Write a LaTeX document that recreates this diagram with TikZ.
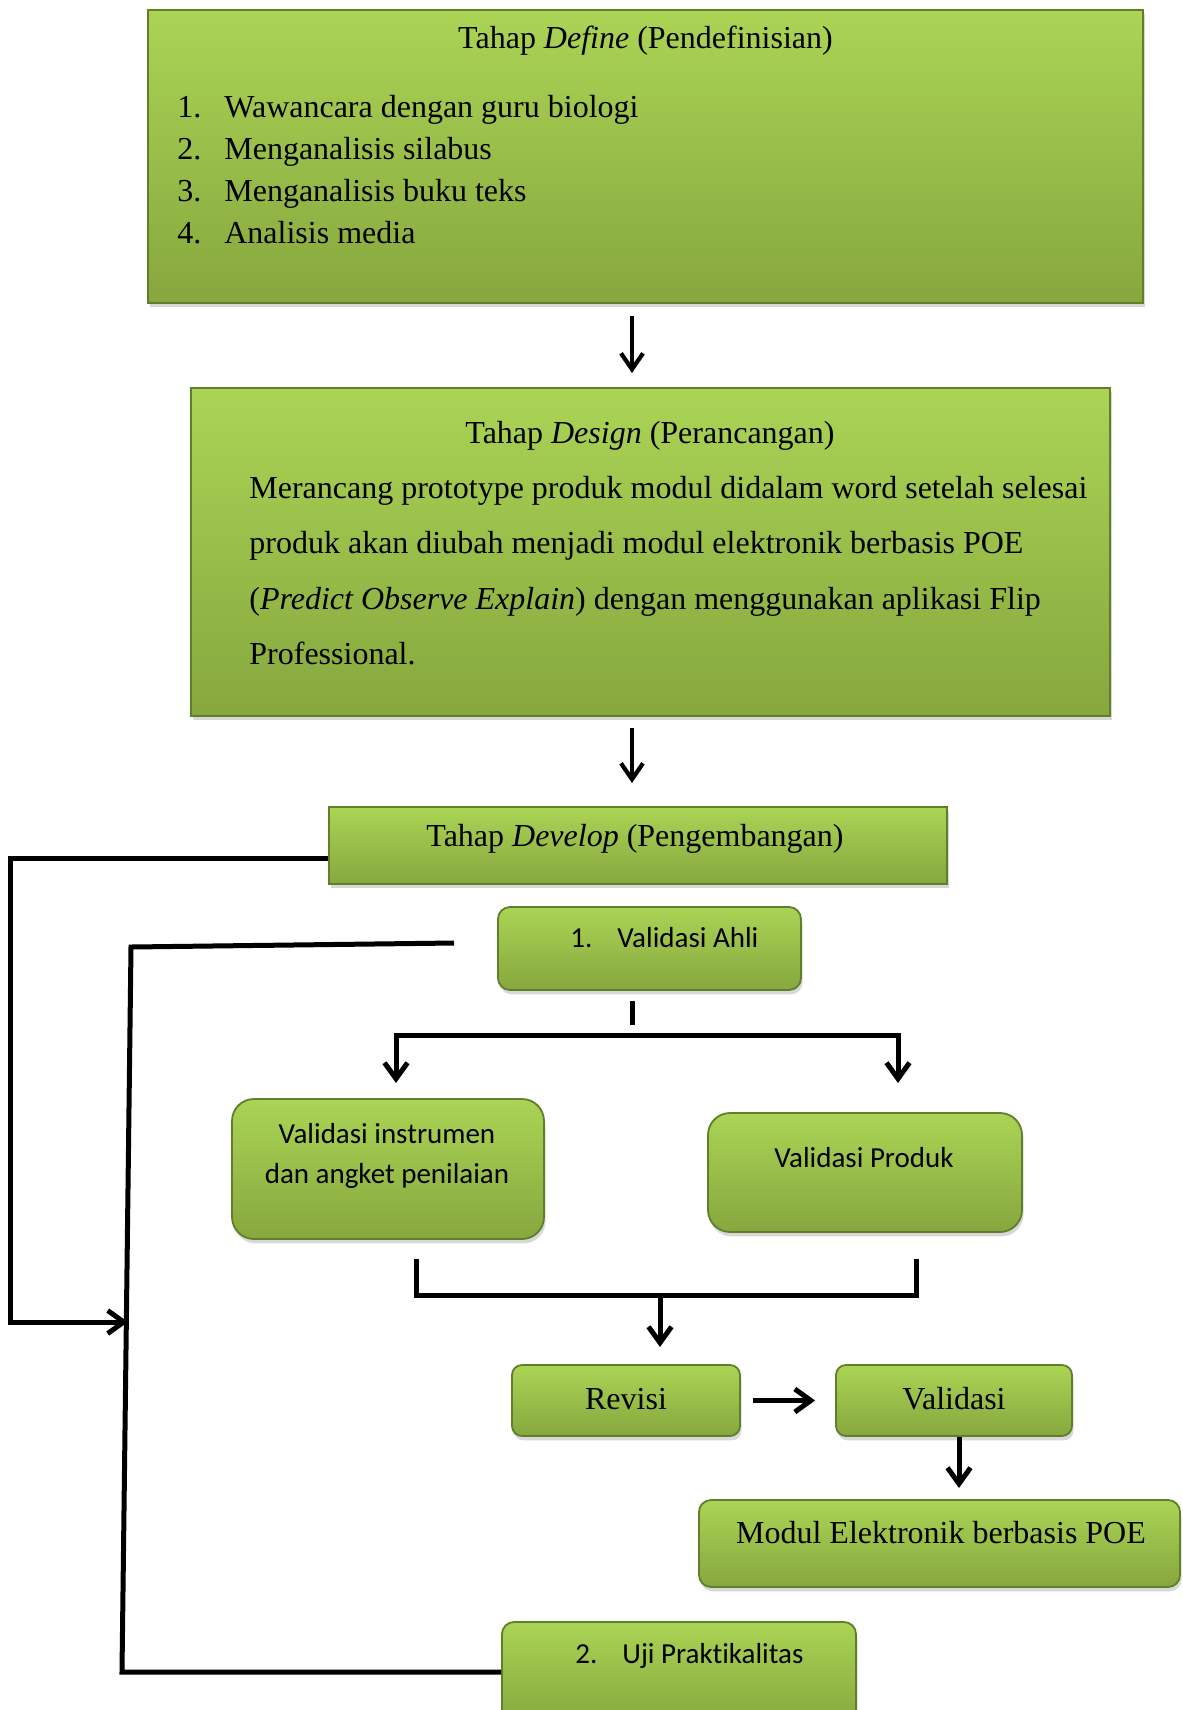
\documentclass[tikz,border=0pt]{standalone}
\usepackage{fontspec}
\setmainfont{Liberation Serif}
\newfontfamily\calfont[Ligatures=NoCommon]{Carlito}
\usetikzlibrary{arrows.meta,shadows}
\definecolor{gtop}{HTML}{ABD455}
\definecolor{gbot}{HTML}{86A73E}
\definecolor{gedge}{HTML}{5F7F2A}
\tikzset{
  gbox/.style={draw=gedge, line width=0.9pt, top color=gtop, bottom color=gbot, inner sep=0pt,
    drop shadow={shadow xshift=0.8pt, shadow yshift=-2.2pt, opacity=0.3}},
  sqbox/.style={gbox},
  rbig/.style={gbox, rounded corners=11pt},
  rmid/.style={gbox, rounded corners=6pt},
  rsmall/.style={gbox, rounded corners=5pt},
  serif/.style={font=\fontsize{16}{19}\selectfont, inner sep=0pt},
  sans/.style={font=\calfont\fontsize{14.5}{17}\selectfont, inner sep=0pt},
  conn/.style={line width=2.5pt, line join=miter},
  arr/.style={conn, -{Straight Barb[length=8pt, width=11.5pt, line width=2.5pt]}},
  arrthin/.style={line width=2.1pt, -{Straight Barb[length=8pt, width=11pt, line width=2.1pt]}},
  arrboth/.style={conn, {Straight Barb[length=8pt, width=11.5pt, line width=2.5pt]}-{Straight Barb[length=8pt, width=11.5pt, line width=2.5pt]}},
}
\begin{document}
\begin{tikzpicture}[x=0.5pt,y=-0.5pt]
\fill[white] (0,0) rectangle (1183,1710);
\useasboundingbox (0,0) rectangle (1183,1710);

% Define
\node[sqbox, minimum width=497.5pt, minimum height=146.5pt] (define) at (645.5,156.5) {};
\node[serif, anchor=base] (defT) at (645.5,48) {Tahap \textit{Define} (Pendefinisian)};
\node[serif, anchor=base west] (d1) at (177,117) {\makebox[23.5pt][l]{1.}Wawancara dengan guru biologi};
\node[serif, anchor=base west] (d2) at (177,159) {\makebox[23.5pt][l]{2.}Menganalisis silabus};
\node[serif, anchor=base west] (d3) at (177,201) {\makebox[23.5pt][l]{3.}Menganalisis buku teks};
\node[serif, anchor=base west] (d4) at (177,243) {\makebox[23.5pt][l]{4.}Analisis media};

% Design
\node[sqbox, minimum width=459.5pt, minimum height=164pt] (design) at (650.5,552) {};
\node[serif, anchor=base] (desT) at (650,443) {Tahap \textit{Design} (Perancangan)};
\node[serif, anchor=base west] (g1) at (249,498) {Merancang prototype produk modul didalam word setelah selesai};
\node[serif, anchor=base west] (g2) at (249,553) {produk akan diubah menjadi modul elektronik berbasis POE};
\node[serif, anchor=base west] (g3) at (249,609) {(\textit{Predict Observe Explain}) dengan menggunakan aplikasi Flip};
\node[serif, anchor=base west] (g4) at (249,664) {Professional.};

% Develop
\node[sqbox, minimum width=309pt, minimum height=38.5pt] (develop) at (638,845.5) {};
\node[serif, anchor=base] (devT) at (635,846) {Tahap \textit{Develop} (Pengembangan)};

% Validasi Ahli
\node[rmid, minimum width=151.5pt, minimum height=41.5pt] (ahli) at (649.5,948.5) {};
\node[sans, anchor=base west] (ahliT) at (570,947) {\makebox[23.5pt][l]{1.}Validasi Ahli};

% Validasi instrumen / produk
\node[rbig, minimum width=156pt, minimum height=70pt] (instr) at (388,1169) {};
\node[sans, anchor=base] (instrT1) at (387,1143) {Validasi instrumen};
\node[sans, anchor=base] (instrT2) at (387,1183) {dan angket penilaian};
\node[rbig, minimum width=157pt, minimum height=59.5pt] (produk) at (865,1172.5) {};
\node[sans, anchor=base] (produkT) at (864,1167) {Validasi Produk};

% Revisi / Validasi
\node[rsmall, minimum width=114pt, minimum height=35.5pt] (revisi) at (626,1400.5) {};
\node[serif, anchor=base] (revisiT) at (626,1409) {Revisi};
\node[rsmall, minimum width=118pt, minimum height=35.5pt] (validasi) at (954,1400.5) {};
\node[serif, anchor=base] (validasiT) at (954,1409) {Validasi};

% Modul
\node[rmid, minimum width=240.5pt, minimum height=43.5pt] (modul) at (939.5,1543.5) {};
\node[serif, anchor=base] (modulT) at (941,1543) {Modul Elektronik berbasis POE};

% Uji
\node[rmid, minimum width=177pt, minimum height=51.5pt] (uji) at (679,1673.5) {};
\node[sans, anchor=base west] (ujiT) at (575,1663) {\makebox[23.5pt][l]{2.}Uji Praktikalitas};

% connectors
\coordinate (a1s) at (632,316); \coordinate (a1e) at (632,373);
\draw[arrthin] (a1s) -- (a1e);
\coordinate (a2s) at (632,728); \coordinate (a2e) at (632,783);
\draw[arrthin] (a2s) -- (a2e);

\coordinate (L1) at (10,858); \coordinate (L2) at (10,1322); \coordinate (L3) at (128,1322);
\draw[arr] (develop.west |- L1) -- (L1) -- (L2) -- (L3);

\coordinate (M0) at (454,943); \coordinate (M1) at (131,947); \coordinate (M2) at (122,1672);
\draw[conn] (M0) -- (M1) -- (M2) -- (M2 -| uji.west);

\coordinate (B0) at (632,1001); \coordinate (B1) at (632,1025);
\draw[conn] (B0) -- (B1);
\coordinate (BLe) at (396,1083); \coordinate (BL) at (396,1035);
\coordinate (BR) at (898,1035); \coordinate (BRe) at (898,1083);
\draw[arrboth] (BLe) -- (BL) -- (BR) -- (BRe);

\coordinate (K0) at (416,1259); \coordinate (K1) at (416,1295);
\coordinate (K2) at (916,1295); \coordinate (K3) at (916,1259);
\draw[conn] (K0) -- (K1) -- (K2) -- (K3);
\coordinate (Ks) at (660,1295); \coordinate (Ke) at (660,1347);
\draw[arr] (Ks) -- (Ke);

\draw[arr, shorten <=6pt, shorten >=10pt] (revisi.east) -- (validasi.west);
\coordinate (Vs) at (959,1437); \coordinate (Ve) at (959,1488);
\draw[arr] (Vs) -- (Ve);
\end{tikzpicture}
\end{document}
